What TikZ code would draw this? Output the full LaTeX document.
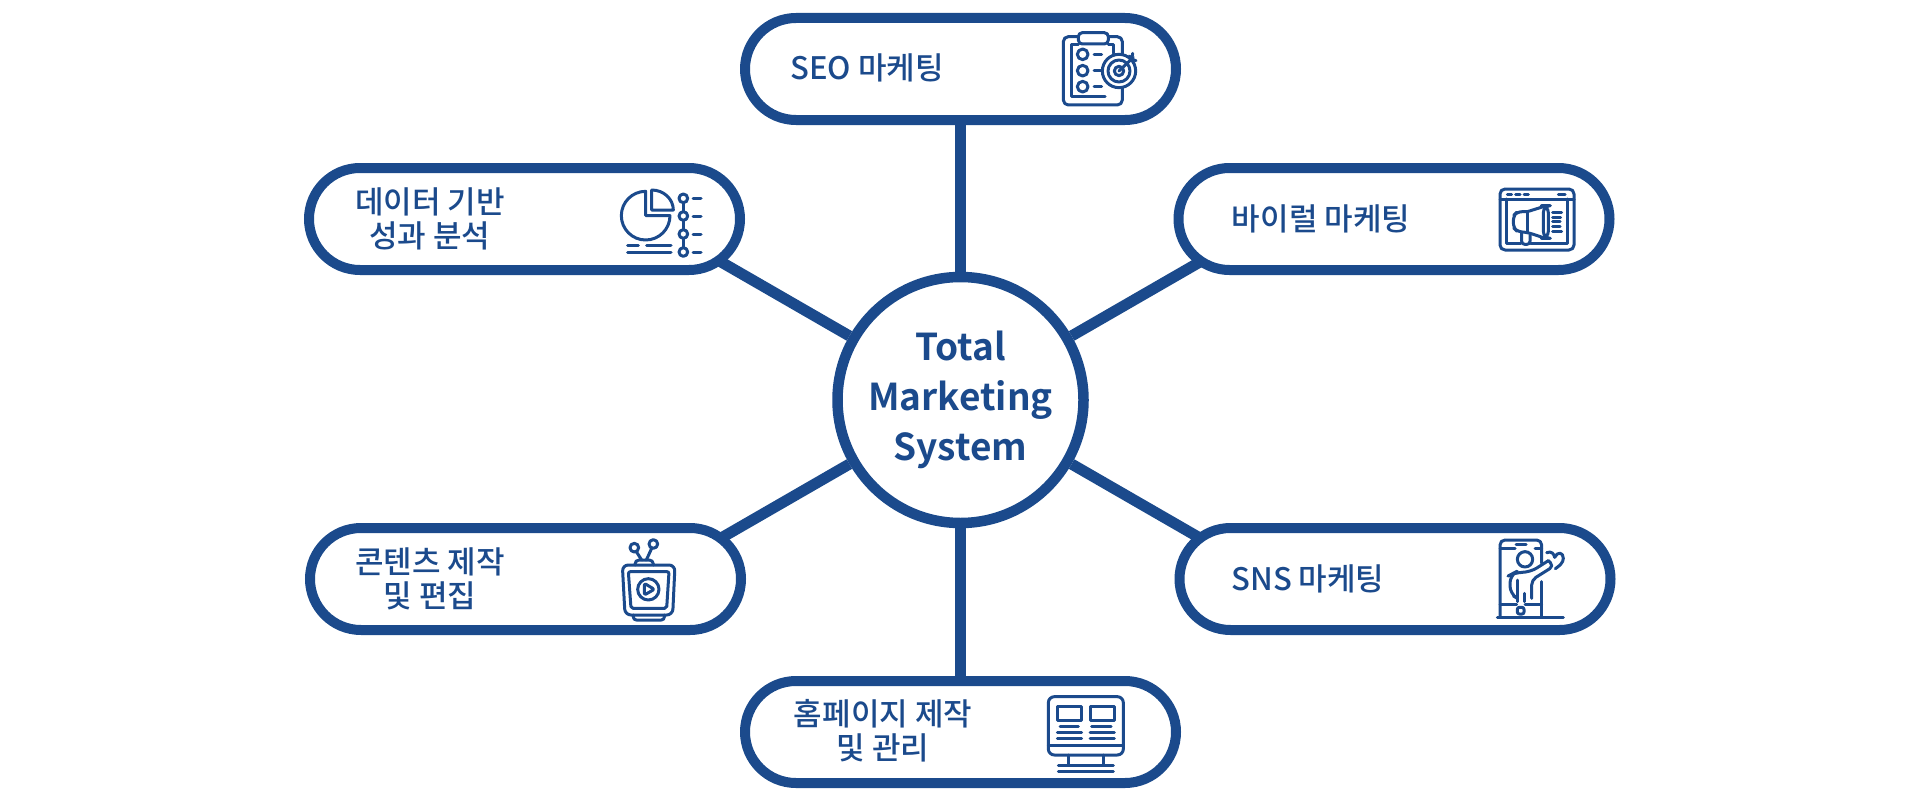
\documentclass[tikz,border=0pt]{standalone}
\usepackage{fontspec}
\setmainfont{Noto Sans CJK KR}
\newfontfamily\krb{Noto Sans CJK KR Medium}
\newfontfamily\krt{Noto Sans CJK KR Bold}
\usetikzlibrary{shapes.misc,backgrounds}
\definecolor{navy}{HTML}{1B4A8C}
\tikzset{
  pill/.style={rounded rectangle,draw=navy,line width=10pt,fill=white,minimum width=431pt,minimum height=102pt,inner sep=0pt},
  hub/.style={circle,draw=navy,line width=10.5pt,fill=white,minimum size=246pt,inner sep=0pt,align=center,text=navy,font=\krt\fontsize{37}{50}\selectfont},
  spoke/.style={draw=navy,line width=11pt},
  lab/.style={text=navy,align=center,inner sep=0pt,font=\krb\fontsize{31}{34}\selectfont},
  ic/.style={draw=navy,line width=3pt,line cap=round,line join=round},
  icf/.style={ic,fill=white}
}
\begin{document}
\begin{tikzpicture}[x=1pt,y=-1pt]
\useasboundingbox (0,0) rectangle (1920,800);
\node[hub] (c) at (960.5,400) {Total\\Marketing\\System};
\node[pill] (top) at (960.5,69) {};
\node[pill] (bot) at (960.5,732) {};
\node[pill] (lt) at (524.5,219) {};
\node[pill] (rt) at (1394,219) {};
\node[pill] (lb) at (525.5,579) {};
\node[pill] (rb) at (1395,579) {};
\coordinate (ltp) at (709,255);
\coordinate (rtp) at (1212,255);
\coordinate (lbp) at (709,545);
\coordinate (rbp) at (1212,545);
\begin{scope}[on background layer]
\fill[white] (0,0) rectangle (1920,800);
\draw[spoke] (c) -- (top);
\draw[spoke] (c) -- (bot);
\draw[spoke] (c) -- (ltp);
\draw[spoke] (c) -- (rtp);
\draw[spoke] (c) -- (lbp);
\draw[spoke] (c) -- (rbp);
\end{scope}
\node[lab] (t1) at (867,68) {SEO 마케팅};
\node[lab] (t2) at (430,219) {데이터 기반\\성과 분석};
\node[lab] (t3) at (1321,219) {바이럴 마케팅};
\node[lab] (t4) at (1308,579) {SNS 마케팅};
\node[lab] (t5) at (430,579) {콘텐츠 제작\\및 편집};
\node[lab] (t6) at (883,731) {홈페이지 제작\\및 관리};
% clipboard + target
\begin{scope}[shift={(1040,20)},scale=1/3]
\draw[ic,rounded corners=5pt] (115,50) -- (70,50) -- (70,255) -- (247,255) -- (247,50) -- (205,50);
\draw[icf,rounded corners=4pt] (115,38) rectangle (205,72);
\draw[ic] (115,75) -- (95,75) -- (95,230) -- (195,230);
\draw[ic] (205,75) -- (220,75) -- (220,100);
\foreach \y in {103,152,200}{\draw[ic] (128,\y) circle[radius=16]; \draw[ic] (162,\y) -- (185,\y);}
\draw[icf] (237,153) circle[radius=50];
\draw[ic] (237,153) circle[radius=33];
\draw[ic] (237,153) circle[radius=14];
\draw[ic] (237,153) -- (280,112);
\draw[ic] (268,108) -- (275,118) -- (288,122);
\draw[ic] (278,100) -- (275,118);
\end{scope}
% browser megaphone
\begin{scope}[shift={(1480,175)},scale=1/3]
\draw[ic,rounded corners=5pt] (60,42) rectangle (282,225);
\draw[ic] (60,72) -- (282,72);
\draw[ic] (82,58) -- (95,58) (107,58) -- (120,58) (132,58) -- (145,58) (235,58) -- (255,58);
\draw[ic] (80,72) -- (80,205) -- (122,205) (152,205) -- (262,205) -- (262,72);
\draw[ic,rounded corners=5pt] (142,110) -- (112,110) -- (100,122) -- (100,158) -- (112,170) -- (142,172) -- (190,188);
\draw[ic] (142,110) -- (190,95);
\draw[ic] (142,110) -- (142,172);
\draw[ic,rounded corners=7pt] (190,92) rectangle (205,190);
\draw[ic,rounded corners=3pt] (125,172) -- (125,208) -- (150,208) -- (150,180);
\draw[ic] (218,112) -- (245,112) (218,126) -- (242,126) (218,140) -- (240,140) (218,154) -- (240,154) (218,168) -- (245,168);
\end{scope}
% phone person
\begin{scope}[shift={(1480,530)},scale=1/3]
\draw[ic,rounded corners=5pt] (60,262) -- (60,30) -- (185,30) -- (185,100);
\draw[ic] (185,155) -- (185,262);
\draw[ic] (60,55) -- (105,55);
\draw[ic] (165,55) -- (185,55);
\draw[ic] (108,42) -- (138,42);
\draw[ic] (60,222) -- (110,222) (135,222) -- (185,222);
\draw[ic] (52,262) -- (250,262);
\draw[ic,rounded corners=2pt] (112,232) rectangle (132,252);
\draw[ic] (135,88) circle[radius=23];
\draw[ic,rounded corners=8pt] (100,198) -- (90,192) -- (90,135) -- (105,127) -- (150,127) -- (205,92);
\draw[ic,rounded corners=5pt] (205,92) -- (222,108) -- (155,150) -- (155,205);
\draw[ic] (112,150) -- (112,215);
\draw[ic] (133,190) -- (133,215);
\draw[ic] (200,68) .. controls (215,62) and (222,72) .. (224,82) .. controls (232,64) and (250,66) .. (250,85) .. controls (250,98) and (238,108) .. (226,116);
\end{scope}
% monitor
\begin{scope}[shift={(1030,685)},scale=1/3]
\draw[ic,rounded corners=6pt] (55,35) rectangle (280,210);
\draw[ic] (55,182) -- (280,182);
\draw[ic] (82,65) rectangle (155,105);
\draw[ic] (182,65) rectangle (253,105);
\draw[ic] (90,125) -- (145,125) (82,142) -- (155,142) (82,160) -- (155,160);
\draw[ic] (185,125) -- (243,125) (180,142) -- (253,142) (180,160) -- (253,160);
\draw[ic] (115,210) -- (115,240) (220,210) -- (220,240);
\draw[ic] (85,240) -- (250,240) (85,258) -- (250,258);
\end{scope}
% tv
\begin{scope}[shift={(605,530)},scale=1/3]
\draw[ic,rounded corners=6pt] (52,105) -- (210,105) -- (203,255) -- (60,255) -- cycle;
\draw[ic,rounded corners=2pt] (70,125) -- (192,125) -- (185,235) -- (78,235) -- cycle;
\draw[ic] (130,178) circle[radius=32];
\draw[ic,rounded corners=2pt] (118,160) -- (148,178) -- (118,195) -- cycle;
\draw[ic,rounded corners=3pt] (85,255) -- (85,270) -- (178,270) -- (178,255);
\draw[ic,rounded corners=4pt] (90,105) -- (90,90) -- (145,90) -- (145,105);
\draw[ic] (88,53) circle[radius=13];
\draw[ic] (145,42) circle[radius=13];
\draw[ic] (94,65) -- (110,90);
\draw[ic] (140,55) -- (124,90);
\end{scope}
% pie timeline
\begin{scope}[shift={(605,180)},scale=1/3]
\draw[ic] (122,34) arc[start angle=270,end angle=0,radius=73] -- (122,107) -- cycle;
\draw[ic] (140,30) -- (140,90) -- (205,90) arc[start angle=0,end angle=-90,x radius=65,y radius=60];
\draw[ic] (235,55) -- (235,216);
\foreach \y in {55,108,162,216}{\draw[icf] (235,\y) circle[radius=13]; \draw[ic] (264,\y) -- (288,\y);}
\draw[ic] (68,197) -- (100,197) (125,197) -- (198,197) (68,217) -- (198,217);
\end{scope}
\end{tikzpicture}
\end{document}
